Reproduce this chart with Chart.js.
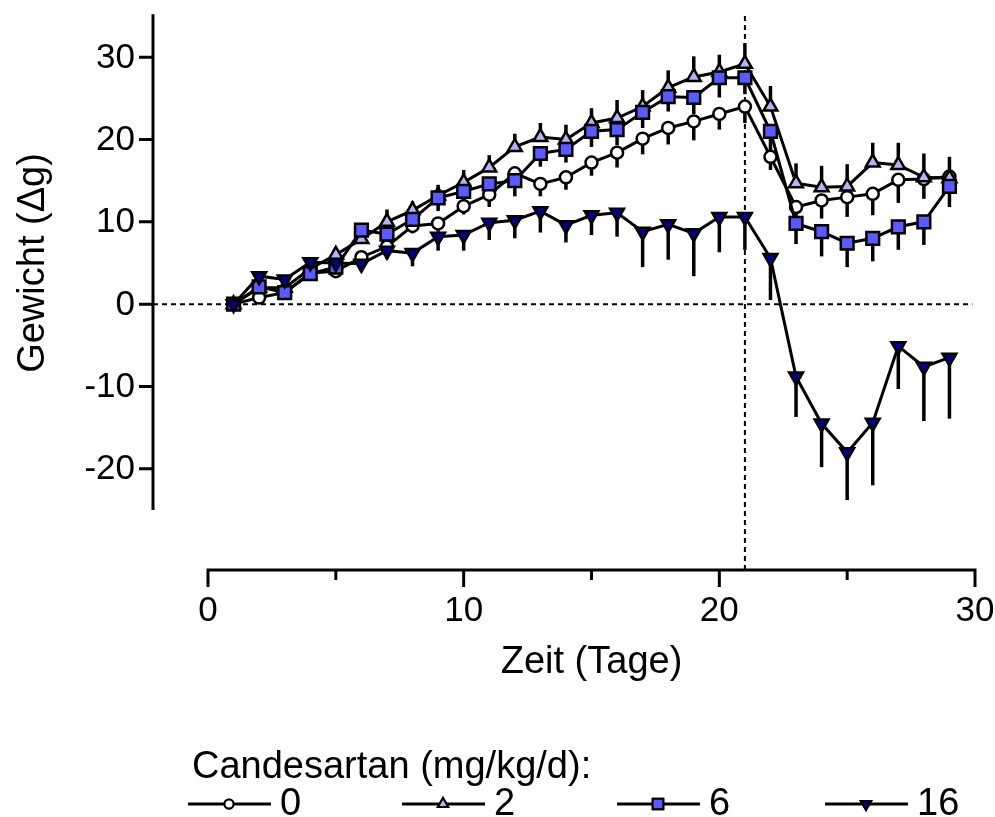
<!DOCTYPE html>
<html>
<head>
<meta charset="utf-8">
<script src="https://cdn.jsdelivr.net/npm/chart.js@4.4.0/dist/chart.umd.min.js"></script>
<style>
    html, body { margin: 0; padding: 0; background: #fff; }
</style>
</head>
<body>
<canvas id="gewicht-grafica" width="995" height="817"></canvas>
<script>
(function () {

    // Tage 1..29
    const tage = [1, 2, 3, 4, 5, 6, 7, 8, 9, 10, 11, 12, 13, 14, 15, 16, 17, 18, 19, 20, 21, 22, 23, 24, 25, 26, 27, 28, 29];

    // Mittelwerte (Δg)
    const dosis0  = [0, 0.8, 1.4, 3.8, 4.0, 5.7, 7.0, 9.5, 9.8, 11.9, 13.3, 15.9, 14.6, 15.4, 17.2, 18.4, 20.1, 21.4, 22.2, 23.1, 24.0, 17.9, 11.8, 12.6, 13.0, 13.4, 15.1, 15.2, 15.5];
    const dosis2  = [0, 2.0, 2.0, 4.3, 6.0, 7.9, 10.0, 11.4, 13.2, 14.8, 16.6, 19.1, 20.3, 20.0, 22.0, 22.6, 24.0, 26.3, 27.6, 28.2, 29.2, 24.0, 14.7, 14.2, 14.3, 17.2, 16.9, 15.4, 15.3];
    const dosis6  = [0, 2.1, 1.4, 3.7, 4.5, 9.0, 8.5, 10.3, 12.9, 13.7, 14.6, 15.0, 18.3, 18.8, 21.0, 21.2, 23.3, 25.2, 25.1, 27.5, 27.5, 21.0, 9.8, 8.8, 7.4, 8.0, 9.4, 10.0, 14.3];
    const dosis16 = [0, 3.4, 3.0, 5.1, 5.0, 4.9, 6.5, 6.2, 8.2, 8.4, 9.9, 10.2, 11.3, 9.6, 10.8, 11.1, 8.8, 9.7, 8.6, 10.6, 10.6, 5.6, -8.8, -14.5, -18.0, -14.4, -5.1, -7.6, -6.5];

    // Fehlerbalken (SEM), nur eine Richtung
    const fehler0  = [0, 0.5, 0.6, 0.6, 0.6, 0.8, 0.8, 0.9, 1.0, 1.0, 1.5, 1.3, 1.5, 1.5, 1.6, 1.8, 1.9, 2.0, 2.3, 1.9, 2.0, 1.6, 1.5, 2.2, 2.4, 2.6, 2.8, 2.4, 2.0];
    const fehler2  = [0, 0.5, 0.5, 0.6, 0.6, 0.8, 1.5, 1.1, 1.3, 1.5, 1.5, 1.6, 1.7, 1.8, 1.8, 2.2, 2.0, 2.1, 2.5, 2.1, 2.5, 2.5, 2.4, 2.6, 2.7, 2.4, 2.7, 2.9, 2.6];
    const fehler6  = [0, 0.6, 0.7, 0.7, 0.8, 1.2, 1.2, 1.4, 1.6, 1.5, 1.5, 1.9, 1.6, 1.6, 1.9, 1.9, 1.9, 1.8, 2.0, 2.4, 2.0, 3.2, 2.5, 3.0, 2.9, 2.8, 2.8, 2.8, 2.5];
    const fehler16 = [0, 0.6, 0.6, 0.7, 0.8, 0.9, 1.0, 1.6, 1.7, 1.9, 2.1, 2.2, 2.6, 2.1, 2.4, 2.9, 4.3, 4.3, 5.2, 4.3, 4.0, 5.1, 4.9, 5.3, 5.8, 7.6, 5.2, 6.6, 7.4];

    const xTicks = [0, 10, 20, 30];
    const xMinorTicks = [5, 15, 25];
    const yTicks = [30, 20, 10, 0, -10, -20];
    const legendeTitel = 'Candesartan (mg/kg/d):';
    const dosen = ['0', '2', '6', '16'];

    const schrift = '"Liberation Sans", Arial, sans-serif';

    const punkte = (werte) => tage.map((t, i) => ({ x: t, y: werte[i] }));

    const serien = [
        { label: dosen[0], data: punkte(dosis0),  fehler: fehler0,  richtung: -1, pointStyle: 'circle',   radius: 6,   rotation: 0,   fill: '#ffffff', order: 3, lr: 4.5 },
        { label: dosen[1], data: punkte(dosis2),  fehler: fehler2,  richtung: 1,  pointStyle: 'triangle', radius: 8,   rotation: 0,   fill: '#b4b4f2', order: 2, lr: 6 },
        { label: dosen[2], data: punkte(dosis6),  fehler: fehler6,  richtung: -1, pointStyle: 'rect',     radius: 9,   rotation: 0,   fill: '#5a5aff', order: 1, lr: 7.5 },
        { label: dosen[3], data: punkte(dosis16), fehler: fehler16, richtung: -1, pointStyle: 'triangle', radius: 8,   rotation: 180, fill: '#00008c', order: 0, lr: 6 }
    ];

    const achsen = {
        id: 'achsen',
        beforeDatasetsDraw(chart) {
            const { ctx, chartArea, scales: { x, y } } = chart;
            const yAchseX = chartArea.left - 55;
            const xAchseY = chartArea.bottom + 60;

            ctx.save();
            // gestrichelte Linien
            ctx.strokeStyle = '#000';
            ctx.lineWidth = 2;
            ctx.setLineDash([5, 4]);
            ctx.beginPath();
            ctx.moveTo(yAchseX, y.getPixelForValue(0));
            ctx.lineTo(x.getPixelForValue(29.9), y.getPixelForValue(0));
            ctx.moveTo(x.getPixelForValue(21), y.getPixelForValue(35));
            ctx.lineTo(x.getPixelForValue(21), xAchseY);
            ctx.stroke();
            ctx.setLineDash([]);

            // Fehlerbalken
            ctx.lineWidth = 3.5;
            serien.forEach((s) => {
                s.data.forEach((p, i) => {
                    const e = s.fehler[i];
                    if (!e) return;
                    const px = x.getPixelForValue(p.x);
                    ctx.beginPath();
                    ctx.moveTo(px, y.getPixelForValue(p.y));
                    ctx.lineTo(px, y.getPixelForValue(p.y + s.richtung * e));
                    ctx.stroke();
                });
            });
            ctx.restore();
        },
        afterDraw(chart) {
            const { ctx, chartArea, scales: { x, y } } = chart;
            const yAchseX = chartArea.left - 55;
            const xAchseY = chartArea.bottom + 60;

            ctx.save();
            ctx.strokeStyle = '#000';
            ctx.fillStyle = '#000';
            ctx.lineWidth = 3;
            ctx.lineCap = 'butt';

            // Y-Achse
            ctx.beginPath();
            ctx.moveTo(yAchseX, y.getPixelForValue(35.2));
            ctx.lineTo(yAchseX, y.getPixelForValue(-25));
            yTicks.forEach((t) => {
                const py = y.getPixelForValue(t);
                ctx.moveTo(yAchseX, py);
                ctx.lineTo(yAchseX - 14, py);
            });
            ctx.stroke();

            ctx.font = '35px ' + schrift;
            ctx.textAlign = 'right';
            ctx.textBaseline = 'middle';
            yTicks.forEach((t) => {
                ctx.fillText(String(t), yAchseX - 18, y.getPixelForValue(t) + 1);
            });

            // X-Achse
            ctx.beginPath();
            ctx.moveTo(x.getPixelForValue(0) - 1.5, xAchseY);
            ctx.lineTo(x.getPixelForValue(30) + 1.5, xAchseY);
            xTicks.forEach((t) => {
                const px = x.getPixelForValue(t);
                ctx.moveTo(px, xAchseY);
                ctx.lineTo(px, xAchseY + 17);
            });
            xMinorTicks.forEach((t) => {
                const px = x.getPixelForValue(t);
                ctx.moveTo(px, xAchseY);
                ctx.lineTo(px, xAchseY + 10);
            });
            ctx.stroke();

            ctx.textAlign = 'center';
            ctx.textBaseline = 'middle';
            xTicks.forEach((t) => {
                ctx.fillText(String(t), x.getPixelForValue(t), xAchseY + 41);
            });

            // Achsentitel
            ctx.font = '38px ' + schrift;
            ctx.fillText('Zeit (Tage)', (x.getPixelForValue(0) + x.getPixelForValue(30)) / 2, xAchseY + 93);
            ctx.save();
            ctx.translate(34, (y.getPixelForValue(35) + y.getPixelForValue(-25)) / 2);
            ctx.rotate(-Math.PI / 2);
            ctx.fillText('Gewicht (\u0394g)', 0, 0);
            ctx.restore();

            // Legende
            ctx.textAlign = 'left';
            ctx.fillText(legendeTitel, 192, 768);
            const startX = [188, 402, 617, 825];
            const zeileY = 804;
            serien.forEach((s, i) => {
                const x0 = startX[i];
                ctx.lineWidth = 3;
                ctx.beginPath();
                ctx.moveTo(x0, zeileY);
                ctx.lineTo(x0 + 83, zeileY);
                ctx.stroke();
                ctx.lineWidth = 2;
                ctx.fillStyle = s.fill;
                Chart.helpers.drawPoint(ctx, { pointStyle: s.pointStyle, rotation: s.rotation, radius: s.lr, borderWidth: 2 }, x0 + 41, zeileY);
                ctx.fill();
                ctx.stroke();
                ctx.fillStyle = '#000';
                ctx.fillText(s.label, x0 + 92, zeileY + 1);
            });
            ctx.restore();
        }
    };

    const ctx = document.getElementById('gewicht-grafica').getContext('2d');

    new Chart(ctx, {
        type: 'line',
        data: {
            datasets: serien.map((s) => ({
                label: s.label,
                data: s.data,
                order: s.order,
                borderColor: '#000',
                borderWidth: 3,
                pointStyle: s.pointStyle,
                pointRadius: s.radius,
                pointRotation: s.rotation,
                pointBackgroundColor: s.fill,
                pointBorderColor: '#000',
                pointBorderWidth: 2.5,
                tension: 0,
                fill: false,
                clip: false
            }))
        },
        options: {
            responsive: false,
            animation: false,
            devicePixelRatio: 1,
            layout: {
                padding: { left: 208, right: 20, top: 16, bottom: 307 }
            },
            scales: {
                x: { type: 'linear', min: 0, max: 30, display: false },
                y: { min: -25, max: 35, display: false }
            },
            plugins: {
                legend: { display: false },
                tooltip: { enabled: false }
            }
        },
        plugins: [achsen]
    });

})();
</script>
</body>
</html>
